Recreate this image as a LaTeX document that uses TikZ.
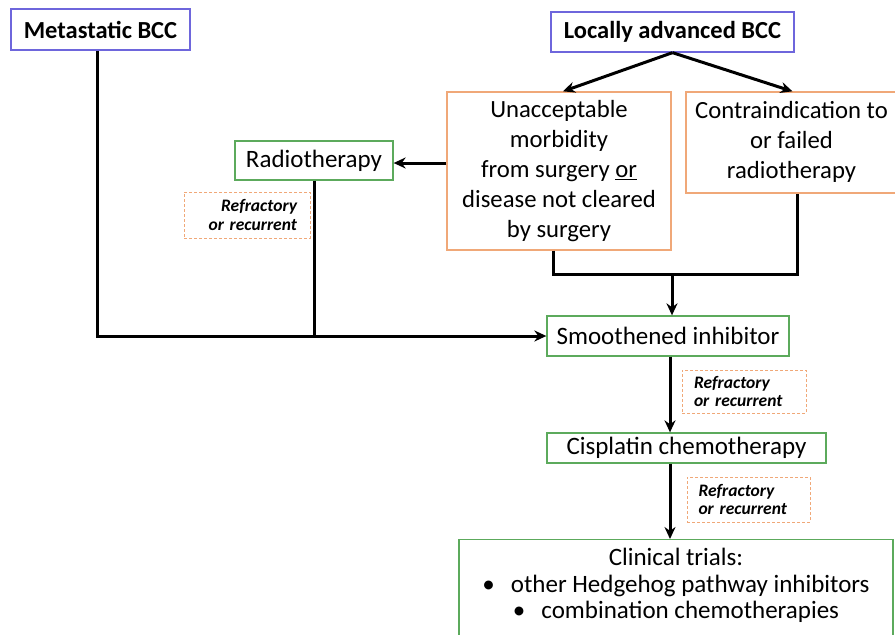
\documentclass[tikz,border=0pt]{standalone}
\usepackage{fontspec}
\setmainfont{Carlito}
\usepackage{xcolor}
\usetikzlibrary{
    calc,
    arrows.meta,
    positioning
}
\definecolor{bccblue}{HTML}{6E66DC}
\definecolor{optorange}{HTML}{F0A878}
\definecolor{treatgreen}{HTML}{5CAA5C}
\tikzset{
    stage/.style={draw=bccblue,line width=1.3pt,inner sep=0pt,font=\fontsize{24.5}{29}\selectfont\bfseries},
    option/.style={draw=optorange,line width=1.3pt,inner sep=0pt,font=\fontsize{24.7}{29.8}\selectfont},
    treat/.style={draw=treatgreen,line width=1.3pt,inner sep=0pt,align=center,font=\fontsize{25}{26.5}\selectfont},
    failnote/.style={draw=optorange,dash pattern=on 3pt off 2pt,line width=1pt,inner sep=0pt,text width=100,font=\fontsize{17.5}{18.5}\selectfont\bfseries\itshape},
    flow/.style={line width=3pt,line join=miter}
}

\begin{document}
\begin{tikzpicture}[x=1pt,y=-1pt,>={Stealth[length=12pt,width=11pt]}]
        \useasboundingbox (0,0) rectangle (895,635);

        % starting points
        \node[stage,minimum width=179,minimum height=41] (met) at (100.5,29.5) {Metastatic BCC};
        \node[stage,minimum width=243,minimum height=40] (loc) at (672.5,32)  {Locally advanced BCC};

        % reasons for systemic therapy
        \node[option,minimum width=224,minimum height=158,align=center] (unacc) at (559,171)
            {Unacceptable\\morbidity\\from surgery \underline{or}\\disease not cleared\\by surgery};
        \node[option,minimum width=211,minimum height=101] (contra) at (791.5,142.5)
            {\begin{tabular}{@{}c@{}}Contraindication to\\or failed\\radiotherapy\end{tabular}\hspace{22pt}};

        % treatments
        \node[treat,minimum width=158,minimum height=39] (radio)  at (314,160.5) {Radiotherapy};
        \node[treat,minimum width=242,minimum height=40] (smooth) at (668,336)   {Smoothened inhibitor};
        \node[treat,minimum width=279,minimum height=30] (cis)    at (686.5,448) {Cisplatin chemotherapy};
        \node[treat,minimum width=434,minimum height=101,anchor=north] (clin) at (676,539)
            {Clinical trials:\\
             \textbullet\hspace{16pt}other Hedgehog pathway inhibitors\\
             \textbullet\hspace{16pt}combination chemotherapies\rule[-13pt]{0pt}{13pt}};

        % refractory notes
        \node[failnote,minimum width=126,minimum height=46,align=right] (ref1) at (247,215)
            {Refractory\\or recurrent};
        \node[failnote,minimum width=124,minimum height=43,align=left]  (ref2) at (744,391.5)
            {Refractory\\or recurrent};
        \node[failnote,minimum width=123,minimum height=45,align=left]  (ref3) at (748.5,499.5)
            {Refractory\\or recurrent};

        \coordinate (join) at (672,274);

        % connectors
        \draw[flow,->] (loc.south) -- ([xshift=4]unacc.north);
        \draw[flow,->] (loc.south) -- ([xshift=1]contra.north);
        \draw[flow,->] (unacc.west |- 0,163) -- (radio.east |- 0,163);
        \draw[flow] ([xshift=-6]unacc.south) |- (join) -| ([xshift=6]contra.south);
        \draw[flow,->] (join) -- (join |- smooth.north);
        \draw[flow,->] ([xshift=-3]met.south) |- (smooth.west);
        \draw[flow] (radio.south) -- (radio.south |- smooth.west);
        \draw[flow,->] ([xshift=2]smooth.south) -- ([xshift=2]smooth.south |- cis.north);
        \draw[flow,->] ([xshift=2]smooth.south |- cis.south) -- ([xshift=2]smooth.south |- clin.north);
    \end{tikzpicture}
\end{document}
